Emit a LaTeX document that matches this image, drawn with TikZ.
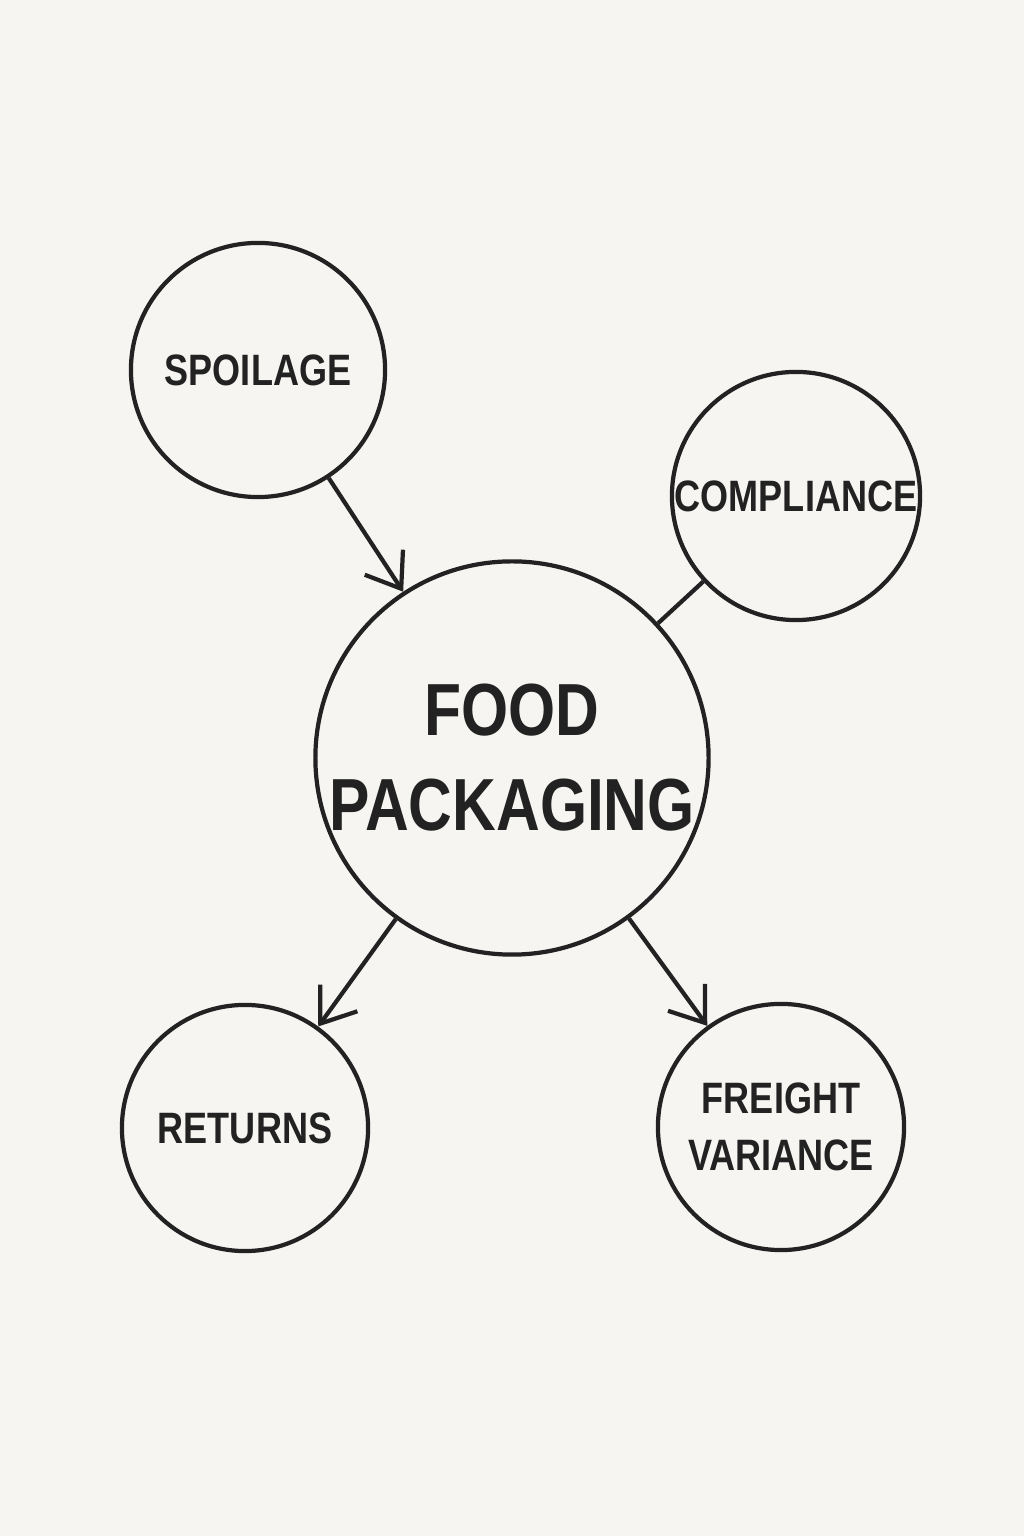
\documentclass[tikz,border=0pt]{standalone}
\usepackage{fontspec}
\setmainfont{Liberation Sans}
\usetikzlibrary{arrows.meta}
\definecolor{paper}{HTML}{F7F5F2}
\definecolor{ink}{HTML}{222222}
\newcommand{\narrow}[1]{\scalebox{0.82}[1]{#1}}

\begin{document}
\begin{tikzpicture}[x=0.01cm, y=0.01cm, >={Straight Barb[length=9pt,width=13pt,line width=1.2pt]}]
    \tikzset{
        bubble/.style={circle, draw=ink, line width=1.2pt, inner sep=0pt, align=center, text=ink},
        link/.style={draw=ink, line width=1.2pt}
    }

    % Fundo
    \fill[paper] (0,0) rectangle (1024,1536);
    \useasboundingbox (0,0) rectangle (1024,1536);

    % Círculos
    \node[bubble, minimum size=3.66cm, font=\bfseries\fontsize{21}{25}\selectfont] (food) at (512,778)
        {\narrow{FOOD}\\[2pt]\narrow{PACKAGING}};
    \node[bubble, minimum size=2.54cm, font=\bfseries\fontsize{12.5}{15}\selectfont] (spoilage) at (258,1166) {\narrow{SPOILAGE}};
    \node[bubble, minimum size=2.48cm, font=\bfseries\fontsize{12.5}{15}\selectfont] (compliance) at (796,1040) {\narrow{COMPLIANCE}};
    \node[bubble, minimum size=2.46cm, font=\bfseries\fontsize{12.5}{15}\selectfont] (returns) at (245,408) {\narrow{RETURNS}};
    \node[bubble, minimum size=2.46cm, font=\bfseries\fontsize{12.5}{15}\selectfont] (freight) at (781,409)
        {\narrow{FREIGHT}\\[1pt]\narrow{VARIANCE}};

    % Conectores
    \draw[link, ->] (spoilage) -- (food);
    \draw[link] (compliance) -- (food);
    \draw[link, ->] (food) -- (returns);
    \draw[link, ->] (food) -- (freight);

\end{tikzpicture}
\end{document}
